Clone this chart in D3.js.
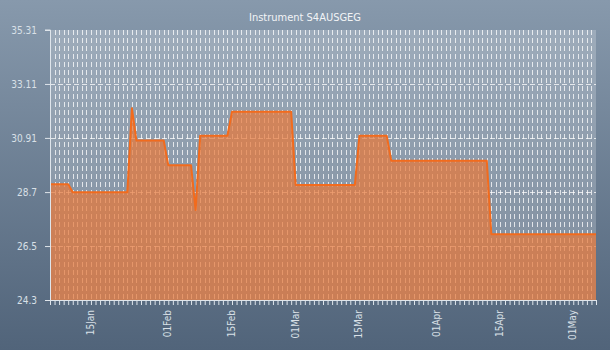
<!DOCTYPE html>
<html>
<head>
<meta charset="utf-8">
<script src="https://cdn.jsdelivr.net/npm/d3@7"></script>
<style>
  html, body { margin: 0; padding: 0; background: #6e8297; }
  svg { display: block; }
  text { font-family: "DejaVu Sans Condensed", "Liberation Sans", sans-serif; }
</style>
</head>
<body>
<svg id="chart" width="610" height="350"></svg>
<script>
// Daily closing levels, starting 6 Jan
const title = "Instrument S4AUSGEG";
const startDate = new Date(Date.UTC(2014, 0, 6));
const endDate = new Date(Date.UTC(2014, 4, 6));
const values = [
  29.02, 29.02, 29.02, 29.02, 29.02,
  28.69, 28.69, 28.69, 28.69, 28.69, 28.69, 28.69, 28.69, 28.69, 28.69, 28.69, 28.69, 28.69,
  32.12,
  30.80, 30.80, 30.80, 30.80, 30.80, 30.80, 30.80,
  29.79, 29.79, 29.79, 29.79, 29.79, 29.79,
  27.97,
  31.00, 31.00, 31.00, 31.00, 31.00, 31.00, 31.00,
  31.98, 31.98, 31.98, 31.98, 31.98, 31.98, 31.98, 31.98, 31.98, 31.98, 31.98, 31.98, 31.98, 31.98,
  28.99, 28.99, 28.99, 28.99, 28.99, 28.99, 28.99, 28.99, 28.99, 28.99, 28.99, 28.99, 28.99, 28.99,
  31.00, 31.00, 31.00, 31.00, 31.00, 31.00, 31.00,
  29.98, 29.98, 29.98, 29.98, 29.98, 29.98, 29.98, 29.98, 29.98, 29.98, 29.98,
  29.98, 29.98, 29.98, 29.98, 29.98, 29.98, 29.98, 29.98, 29.98, 29.98, 29.98,
  26.98, 26.98, 26.98, 26.98, 26.98, 26.98, 26.98, 26.98, 26.98, 26.98, 26.98, 26.98,
  26.98, 26.98, 26.98, 26.98, 26.98, 26.98, 26.98, 26.98, 26.98, 26.98, 26.98, 26.98
];
const yTicks = [24.3, 26.5, 28.7, 30.91, 33.11, 35.31];
const xTickLabels = ["2014-01-15", "2014-02-01", "2014-02-15", "2014-03-01",
                     "2014-03-15", "2014-04-01", "2014-04-15", "2014-05-01"];

const data = values.map((v, i) => ({ date: d3.utcDay.offset(startDate, i), value: v }));

const W = 610, H = 350;
const m = { left: 50, right: 14, top: 30, bottom: 50 };
const svg = d3.select("#chart");

const defs = svg.append("defs");
const bg = defs.append("linearGradient").attr("id", "bg")
  .attr("x1", 0).attr("y1", 0).attr("x2", 0).attr("y2", 1);
bg.append("stop").attr("offset", "0%").attr("stop-color", "#8799ac");
bg.append("stop").attr("offset", "100%").attr("stop-color", "#51647a");

svg.append("rect").attr("width", W).attr("height", H).attr("fill", "url(#bg)");

const x = d3.scaleUtc().domain([startDate, endDate]).range([m.left, W - m.right]);
const y = d3.scaleLinear().domain([yTicks[0], yTicks[yTicks.length - 1]]).range([H - m.bottom, m.top]);

// plot panel
svg.append("rect")
  .attr("x", x.range()[0]).attr("y", y.range()[1])
  .attr("width", x.range()[1] - x.range()[0])
  .attr("height", y.range()[0] - y.range()[1])
  .attr("fill", "#ffffff").attr("fill-opacity", 0.22);

// grid
const grid = svg.append("g").attr("stroke", "#ffffff").attr("stroke-opacity", 0.75)
  .attr("stroke-width", 1).attr("stroke-dasharray", "5,3");
grid.selectAll("line.v").data(d3.utcDay.range(d3.utcDay.offset(startDate, 1), endDate))
  .join("line").attr("class", "v")
  .attr("x1", d => Math.round(x(d)) + 0.5).attr("x2", d => Math.round(x(d)) + 0.5)
  .attr("y1", y.range()[1]).attr("y2", y.range()[0]);
grid.selectAll("line.h").data(yTicks.slice(1, -1))
  .join("line").attr("class", "h")
  .attr("x1", x.range()[0]).attr("x2", x.range()[1])
  .attr("y1", d => Math.round(y(d)) + 0.5).attr("y2", d => Math.round(y(d)) + 0.5);

// area + line
const area = d3.area().x(d => x(d.date)).y0(y.range()[0]).y1(d => y(d.value));
const line = d3.line().x(d => x(d.date)).y(d => y(d.value));
svg.append("path").datum(data).attr("d", area)
  .attr("fill", "#e8783a").attr("fill-opacity", 0.72);
svg.append("path").datum(data).attr("d", line)
  .attr("fill", "none").attr("stroke", "#f26b1d").attr("stroke-width", 2)
  .attr("stroke-linejoin", "round");

// axes
const axisColor = "#dfe5eb";
const yAxis = svg.append("g").attr("transform", `translate(${m.left},0)`)
  .call(d3.axisLeft(y).tickValues(yTicks).tickSize(5).tickPadding(8)
    .tickFormat(d => d3.format("~f")(d)));
const xAxis = svg.append("g").attr("transform", `translate(0,${H - m.bottom})`)
  .call(d3.axisBottom(x).ticks(d3.utcDay.every(1)).tickSize(5).tickFormat(""));
[yAxis, xAxis].forEach(g => {
  g.select(".domain").attr("stroke", axisColor).attr("stroke-width", 1);
  g.selectAll(".tick line").attr("stroke", axisColor);
});
yAxis.select(".domain").attr("d", `M-5,${y.range()[0] + 0.5}H0.5V${y.range()[1]}H-5`);
xAxis.select(".domain").attr("d", `M${m.left - 5},0.5H${x.range()[1]}`);
yAxis.selectAll("text").attr("fill", "#d9e0e7").attr("font-size", 10);

const fmt = d3.utcFormat("%d%b");
svg.append("g").selectAll("text").data(xTickLabels.map(s => new Date(s + "T00:00:00Z")))
  .join("text")
  .attr("transform", d => `translate(${x(d) + 3},${H - m.bottom + 10}) rotate(-90)`)
  .attr("text-anchor", "end")
  .attr("fill", "#d9e0e7").attr("font-size", 10)
  .text(d => fmt(d));

svg.append("text").attr("x", W / 2).attr("y", 21).attr("text-anchor", "middle")
  .attr("fill", "#f2f4f6").attr("font-size", 11).text(title);
</script>
</body>
</html>
